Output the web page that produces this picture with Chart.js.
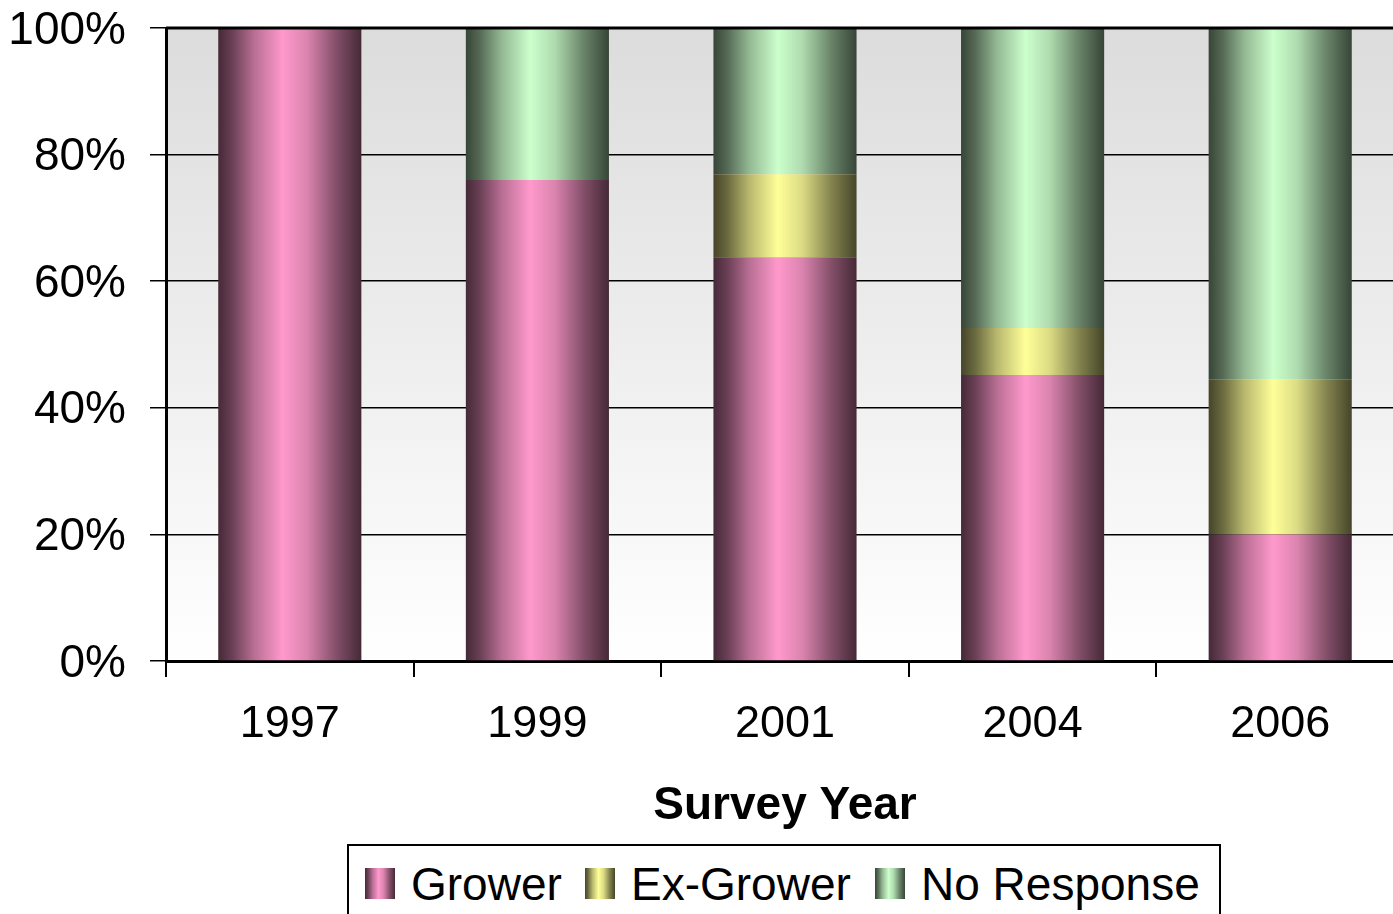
<!DOCTYPE html>
<html>
<head>
<meta charset="utf-8">
<script src="https://cdn.jsdelivr.net/npm/chart.js@4/dist/chart.umd.min.js"></script>
<style>
  html, body { margin: 0; padding: 0; background: #fff; width: 1393px; height: 914px; overflow: hidden; }
  #wrap { position: absolute; left: 0; top: 0; width: 1404px; height: 834px; }
  #legend { position: absolute; left: 347px; top: 844px; width: 874px; height: 90px;
    border: 2px solid #000; box-sizing: border-box; background: #fff;
    font-family: 'Liberation Sans', Arial, sans-serif; font-size: 46px; color: #000; }
  .item { position: absolute; top: 0; height: 80px; }
  .mk { position: absolute; top: 22px; width: 30px; height: 31px; }
  .lt { position: absolute; top: 12px; white-space: nowrap; line-height: 52px; }
</style>
</head>
<body>
<div id="wrap"><canvas id="c" width="1404" height="834"></canvas></div>
<div id="legend"></div>
<script>
const categories = ['1997', '1999', '2001', '2004', '2006'];
const growerValues = [100, 76.0, 63.8, 45.2, 20.0];
const exGrowerValues = [0, 0, 13.1, 7.4, 24.5];
const noResponseValues = [0, 24.0, 23.1, 47.4, 55.5];
const yTickLabels = ['0%', '20%', '40%', '60%', '80%', '100%'];
const seriesNames = ['Grower', 'Ex-Grower', 'No Response'];
const seriesColors = [[255, 153, 204], [255, 255, 153], [204, 255, 204]];

const stops = [[0, 0.27], [0.1, 0.42], [0.25, 0.72], [0.45, 1.0], [0.62, 0.86], [0.82, 0.52], [1, 0.27]];
function rgb(c, f) { return 'rgb(' + c.map(v => Math.round(v * f)).join(',') + ')'; }

function barGradient(ctx, colorIdx) {
  const chart = ctx.chart;
  const xs = chart.scales.x;
  if (!xs || !chart.chartArea) return rgb(seriesColors[colorIdx], 1);
  const center = xs.getPixelForValue(ctx.dataIndex);
  const w = (xs.width / categories.length) * 0.578;
  const g = chart.ctx.createLinearGradient(center - w / 2, 0, center + w / 2, 0);
  stops.forEach(s => g.addColorStop(s[0], rgb(seriesColors[colorIdx], s[1])));
  return g;
}

const bgPlugin = {
  id: 'plotBg',
  beforeDraw(chart) {
    const { ctx, chartArea: a } = chart;
    const g = ctx.createLinearGradient(0, a.top, 0, a.bottom);
    g.addColorStop(0, '#dcdcdc');
    g.addColorStop(1, '#ffffff');
    ctx.save();
    ctx.fillStyle = g;
    ctx.fillRect(a.left, a.top, a.right - a.left, a.bottom - a.top);
    ctx.restore();
  },
  afterDraw(chart) {
    const { ctx, chartArea: a } = chart;
    ctx.save();
    ctx.strokeStyle = '#000';
    ctx.lineWidth = 3;
    ctx.beginPath();
    ctx.moveTo(a.left, a.top);
    ctx.lineTo(a.right + 5, a.top);
    ctx.stroke();
    ctx.restore();
  }
};

const font = 'Liberation Sans, Arial, sans-serif';
const datasets = [growerValues, exGrowerValues, noResponseValues].map((vals, i) => ({
  label: seriesNames[i],
  data: vals,
  backgroundColor: (ctx) => barGradient(ctx, i),
  borderWidth: 0,
  categoryPercentage: 1,
  barPercentage: 0.578
}));

new Chart(document.getElementById('c'), {
  type: 'bar',
  data: { labels: categories, datasets },
  options: {
    responsive: false,
    animation: false,
    layout: { padding: { top: 28, right: 0, bottom: 0, left: 0 } },
    plugins: { legend: { display: false }, tooltip: { enabled: false } },
    scales: {
      x: {
        stacked: true,
        afterFit(s) { s.height = 173; s.paddingLeft = 0; s.paddingRight = 0; },
        grid: { display: true, drawOnChartArea: false, drawTicks: true, tickLength: 16, color: '#000', lineWidth: 2, offset: true },
        border: { display: true, color: '#000', width: 3 },
        ticks: { color: '#000', font: { family: font, size: 45 }, padding: 21, maxRotation: 0 },
        title: { display: true, text: 'Survey Year', color: '#000', font: { family: font, size: 46, weight: 'bold' }, padding: { top: 0, bottom: 0 } }
      },
      y: {
        stacked: true,
        min: 0, max: 100,
        afterFit(s) { s.width = 166; s.paddingTop = 0; s.paddingBottom = 0; },
        grid: { color: '#000', lineWidth: 1.5, tickLength: 16, drawTicks: true },
        border: { display: true, color: '#000', width: 3 },
        ticks: { stepSize: 20, color: '#000', font: { family: font, size: 46 }, padding: 24, labelOffset: 3,
          callback: (v, i) => yTickLabels[i] }
      }
    }
  },
  plugins: [bgPlugin]
});

// legend built from series names and colours
const legend = document.getElementById('legend');
const itemLefts = [16, 236, 526];
seriesNames.forEach((name, i) => {
  const it = document.createElement('div');
  it.className = 'item';
  it.style.left = itemLefts[i] + 'px';
  const mk = document.createElement('div');
  mk.className = 'mk';
  mk.style.left = '0px';
  mk.style.background = 'linear-gradient(to right,' + stops.map(s => rgb(seriesColors[i], s[1]) + ' ' + (s[0] * 100) + '%').join(',') + ')';
  const lt = document.createElement('div');
  lt.className = 'lt';
  lt.style.left = '46px';
  lt.textContent = name;
  it.appendChild(mk);
  it.appendChild(lt);
  legend.appendChild(it);
});
</script>
</body>
</html>
